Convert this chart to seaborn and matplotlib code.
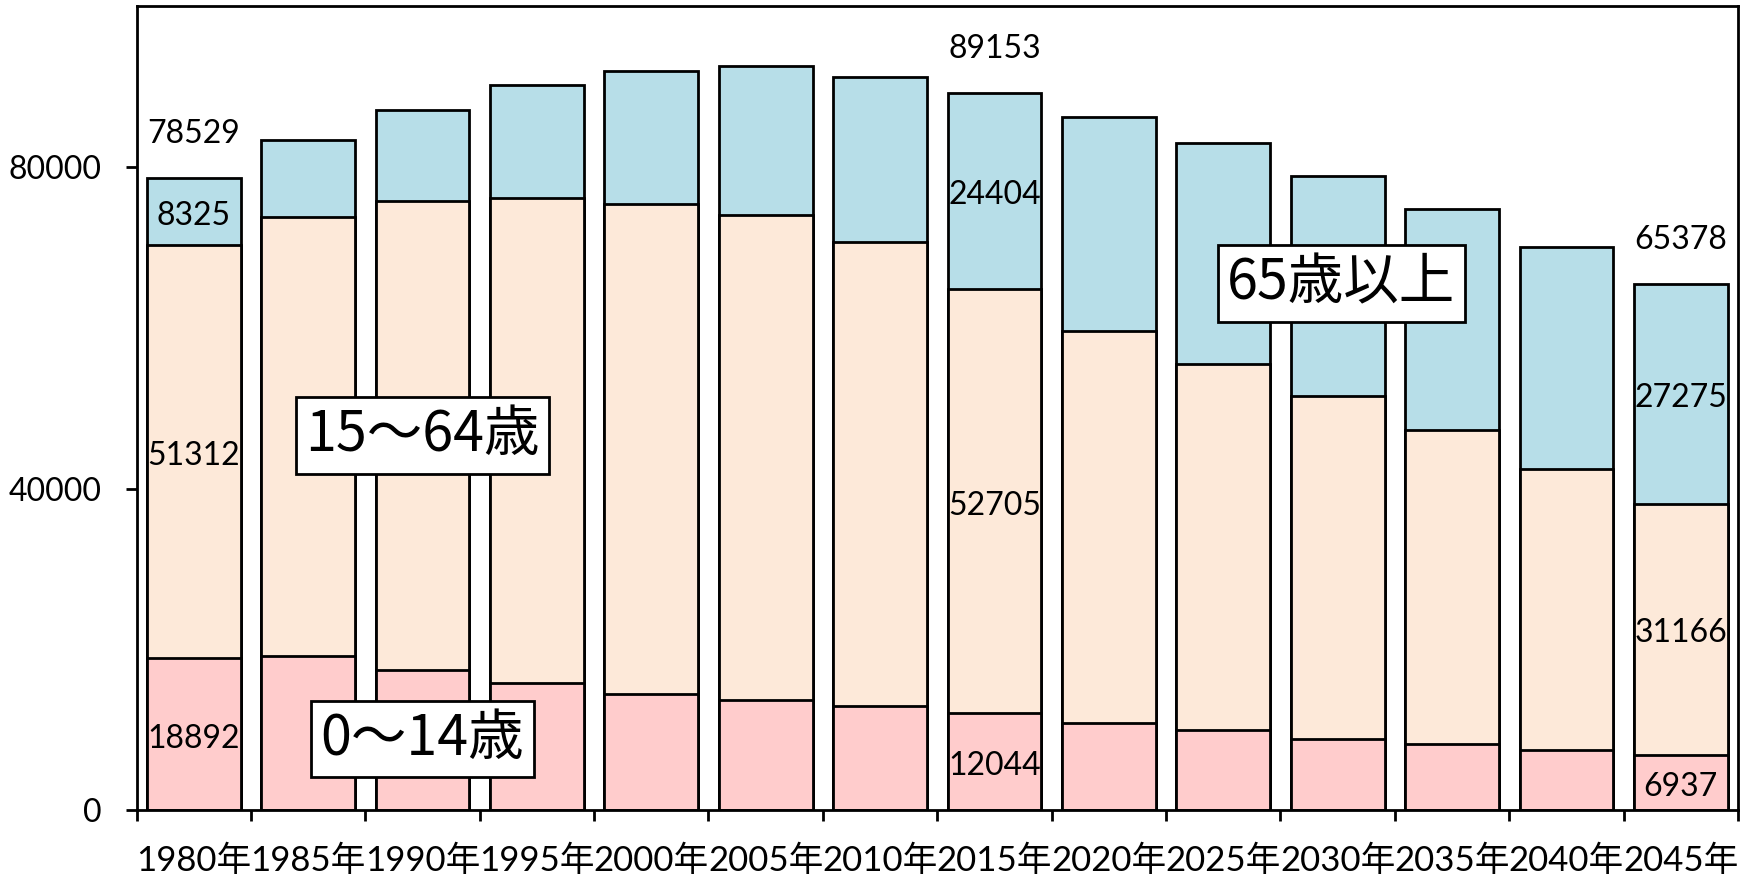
import matplotlib
matplotlib.use("Agg")
import matplotlib.pyplot as plt
import seaborn as sns
import numpy as np
import pandas as pd

# Population by age group (persons)
years = ["1980年", "1985年", "1990年", "1995年", "2000年", "2005年", "2010年",
         "2015年", "2020年", "2025年", "2030年", "2035年", "2040年", "2045年"]
age_0_14 = [18892, 19225, 17489, 15791, 14428, 13684, 13027,
            12044, 10920, 9928, 8887, 8230, 7524, 6937]
age_15_64 = [51312, 54488, 58295, 60327, 60983, 60364, 57637,
             52705, 48712, 45566, 42565, 39082, 34954, 31166]
age_65_over = [8325, 9545, 11241, 14043, 16449, 18505, 20526,
               24404, 26476, 27478, 27430, 27442, 27479, 27275]
labelled_years = ["1980年", "2015年", "2045年"]
group_names = ["0～14歳", "15～64歳", "65歳以上"]

sns.set_theme(style="white")
plt.rcParams["font.family"] = ["Lato", "Noto Sans CJK JP", "DejaVu Sans"]
plt.rcParams["text.color"] = "black"
plt.rcParams["xtick.color"] = "black"
plt.rcParams["ytick.color"] = "black"
plt.rcParams["xtick.labelcolor"] = "black"
plt.rcParams["ytick.labelcolor"] = "black"

df = pd.DataFrame({"year": years, "young": age_0_14,
                   "working": age_15_64, "old": age_65_over})
df["cum_working"] = df["young"] + df["working"]
df["total"] = df["cum_working"] + df["old"]

c_young = "#FFCCCC"
c_work = "#FDE9D9"
c_old = "#B7DEE8"

fig = plt.figure(figsize=(17.48, 8.76), dpi=100)
ax = fig.add_axes([0.0781, 0.0749, 0.9162, 0.9186])

bar_kw = dict(width=0.82, edgecolor="black", linewidth=2, saturation=1, ax=ax)
sns.barplot(data=df, x="year", y="total", color=c_old, **bar_kw)
sns.barplot(data=df, x="year", y="cum_working", color=c_work, **bar_kw)
sns.barplot(data=df, x="year", y="young", color=c_young, **bar_kw)

ax.set_xlim(-0.5, len(years) - 0.5)
ax.set_ylim(0, 100000)
ax.set_xlabel("")
ax.set_ylabel("")

# y axis
ax.set_yticks([0, 40000, 80000])
ax.set_yticklabels(["0", "40000", "80000"])
ax.tick_params(axis="y", which="major", direction="out", length=8, width=2,
               pad=17, labelsize=23, left=True, color="black", labelcolor="black")

# x axis: ticks between categories, labels centered on the bars
ax.set_xticks(np.arange(-0.5, len(years), 1.0))
ax.set_xticklabels([])
ax.set_xticks(np.arange(len(years)), minor=True)
ax.set_xticklabels(years, minor=True)
ax.tick_params(axis="x", which="major", direction="out", length=8, width=2,
               bottom=True, color="black")
ax.tick_params(axis="x", which="minor", length=0, pad=25, labelsize=25,
               labelcolor="black")

for s in ax.spines.values():
    s.set_visible(True)
    s.set_color("black")
    s.set_linewidth(2)

# value labels for selected years: segment values at segment centres, total above
seg_kw = dict(textcoords="offset points", xytext=(0, -3), ha="center",
              va="center", fontsize=23)
for i, yr in enumerate(years):
    if yr not in labelled_years:
        continue
    y0 = age_0_14[i]
    y1 = y0 + age_15_64[i]
    y2 = y1 + age_65_over[i]
    ax.annotate(f"{age_0_14[i]}", xy=(i, y0 / 2), **seg_kw)
    ax.annotate(f"{age_15_64[i]}", xy=(i, (y0 + y1) / 2), **seg_kw)
    ax.annotate(f"{age_65_over[i]}", xy=(i, (y1 + y2) / 2), **seg_kw)
    ax.annotate(f"{y2}", xy=(i, y2), xytext=(0, 32), textcoords="offset points",
                ha="center", va="center", fontsize=23)

# group name boxes
box = dict(boxstyle="square,pad=0.17", facecolor="white", edgecolor="black", linewidth=2)
cjk = ["Noto Sans CJK JP", "DejaVu Sans"]
ax.text(2.0, 8900, group_names[0], ha="center", va="center", fontsize=40,
        family=cjk, bbox=box, zorder=5)
ax.text(2.0, 46600, group_names[1], ha="center", va="center", fontsize=40,
        family=cjk, bbox=box, zorder=5)
ax.text(10.03, 65500, group_names[2], ha="center", va="center", fontsize=40,
        family=cjk, bbox=box, zorder=5)

fig.savefig("out.png", dpi=100, facecolor="white")
